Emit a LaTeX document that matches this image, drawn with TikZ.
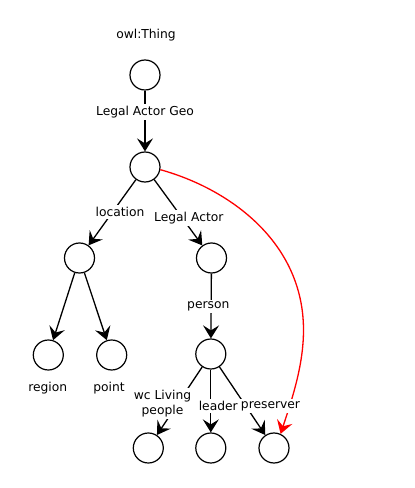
\documentclass[tikz,border=0pt]{standalone}
\usepackage{fontspec}
\setmainfont{DejaVu Sans}
\usepackage{tikz}
\usetikzlibrary{positioning,arrows.meta}
\definecolor{linkred}{RGB}{255,0,0}

\begin{document}
\begin{tikzpicture}[x=1pt,y=1pt,
  cls/.style={circle, draw=black, line width=1.2pt, minimum size=30pt, inner sep=0pt, fill=white},
  lbl/.style={fill=white, inner sep=2pt, font=\fontsize{12.3}{14.5}\selectfont, align=center},
  txt/.style={inner sep=1pt, font=\fontsize{12.3}{14.5}\selectfont},
  rel/.style={draw=black, line width=1.3pt, -{Stealth[length=13pt,width=16pt,inset=5pt]}}]
\useasboundingbox (0,0) rectangle (415,488);

% Classes (circles)
\node[cls] (thing) at (145,413) {};
\node[cls] (geo) at (145,321) {};
\node[cls] (loc) at (79.5,230) {};
\node[cls] (actor) at (211.5,230) {};
\node[cls] (region) at (48.3,133) {};
\node[cls] (point) at (111.7,133) {};
\node[cls] (person) at (210.8,134) {};
\node[cls] (wc) at (148.3,40) {};
\node[cls] (leader) at (210.8,40) {};
\node[cls] (pres) at (274,40) {};

% Class names
\node[txt] (thingname) at (146,453) {owl:Thing};
\node[txt] (regionname) at (47.7,100) {region};
\node[txt] (pointname) at (109,100) {point};

% Edges, center to center
\draw[rel] (thing) -- (geo);
\draw[rel] (geo) -- (loc);
\draw[rel] (geo) -- (actor);
\draw[rel] (loc) -- (region);
\draw[rel] (loc) -- (point);
\draw[rel] (actor) -- (person);
\draw[rel] (person) -- (wc);
\draw[rel] (person) -- (leader);
\draw[rel] (person) -- (pres);

% Red link, Legal Actor Geo to preserver
\draw[rel, draw=linkred] (geo.-10) .. controls (229.3,299.2) and (303.5,246) .. (303.5,158)
  .. controls (303.5,123) and (292.3,89.7) .. (pres.65);

% Edge labels on top of the lines
\node[lbl] (lgeo) at (145,376.3) {Legal Actor Geo};
\node[lbl] (lloc) at (120,276) {location};
\node[lbl] (lactor) at (188.8,269.7) {Legal Actor};
\node[lbl] (lperson) at (208.3,181.3) {person};
\node[lbl] (lwc) at (162.5,84.3) {wc Living\\people};
\node[lbl] (lleader) at (218.3,82) {leader};
\node[lbl] (lpres) at (270.5,82) {preserver};
\end{tikzpicture}
\end{document}
